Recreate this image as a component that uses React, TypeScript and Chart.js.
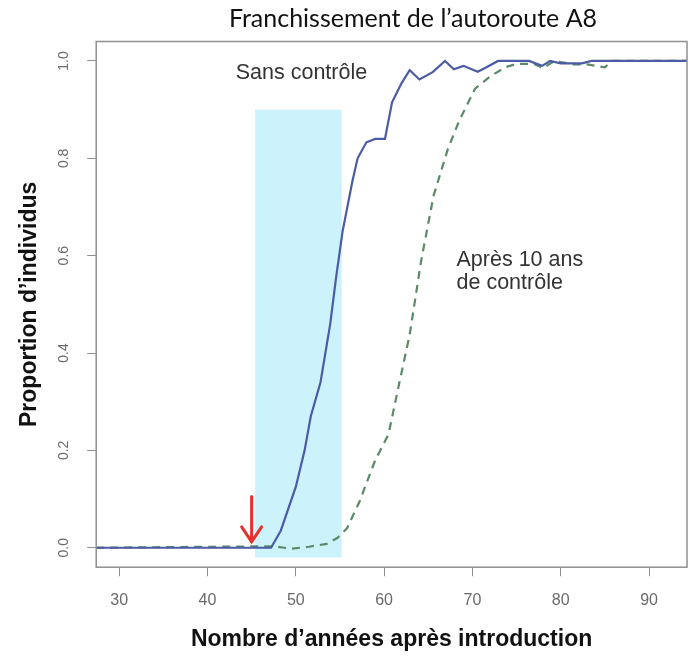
import React, { useEffect, useRef } from 'react';
import { Chart, registerables } from 'chart.js';

Chart.register(...registerables);

// ---------- data ----------
const chartTitle = 'Franchissement de l\u2019autoroute A8';
const xAxisTitle = 'Nombre d\u2019ann\u00e9es apr\u00e8s introduction';
const yAxisTitle = 'Proportion d\u2019individus';

const xTicks = [30, 40, 50, 60, 70, 80, 90];
const yTicks = [0, 0.2, 0.4, 0.6, 0.8, 1.0];
const yTickLabels = ['0.0', '0.2', '0.4', '0.6', '0.8', '1.0'];

const xMin = 27.4;
const xMax = 94.3;
const yMin = -0.04;
const yMax = 1.04;

const sansLabel = 'Sans contr\u00f4le';
const sansYears = [27.4, 47.2, 48.3, 50.0, 51.0, 51.7, 52.8, 53.9, 54.6, 55.3, 56.4, 57.0, 58.0, 59.0, 60.1, 60.9, 62.0, 62.9, 64.0, 65.5, 66.9, 67.9, 69.0, 70.6, 71.6, 72.9, 76.4, 77.9, 78.8, 80.0, 82.4, 83.5, 94.3];
const sansValues = [0, 0, 0.035, 0.125, 0.2, 0.27, 0.34, 0.46, 0.56, 0.65, 0.752, 0.8, 0.833, 0.84, 0.84, 0.915, 0.955, 0.981, 0.962, 0.977, 1.0, 0.983, 0.99, 0.978, 0.987, 1.0, 1.0, 0.99, 1.0, 0.995, 0.995, 1.0, 1.0];

const apresLabel = 'Apr\u00e8s 10 ans de contr\u00f4le';
const apresYears = [27.4, 47.5, 49.5, 51.5, 53.5, 54.7, 55.8, 57.2, 59.0, 60.5, 61.6, 62.9, 64.2, 65.6, 67.2, 68.5, 70.3, 72.0, 73.7, 75.0, 77.0, 78.0, 79.3, 81.5, 83.0, 85.0, 85.8, 94.3];
const apresValues = [0, 0.003, -0.002, 0.002, 0.008, 0.02, 0.04, 0.094, 0.18, 0.233, 0.328, 0.438, 0.59, 0.723, 0.818, 0.877, 0.943, 0.968, 0.987, 0.994, 0.994, 0.985, 1.0, 0.993, 0.993, 0.987, 1.0, 1.0];

// shaded control period
const bandStart = 45.4;
const bandEnd = 55.2;
const bandTop = 0.9;
const bandBottom = -0.02;

// red arrow (introduction point)
const arrowYear = 45;
const arrowFrom = 0.105;
const arrowTo = 0.012;

// text annotations (data coordinates)
const sansTextPos = { x: 43.2, y: 0.975 };
const apresTextLines = ['Apr\u00e8s 10 ans', 'de contr\u00f4le'];
const apresTextPos = { x: 68.2, y: 0.59 };
const apresLineGap = 0.047;

// ---------- styles ----------
const BLUE = '#4b5ba6';
const GREEN = '#5a8a68';
const BAND = 'rgb(204,242,251)';
const RED = '#e8302a';
const AXIS = '#8f8f8f';
const TICKTXT = '#6a6a6a';
const SANS = '"Liberation Sans", Arial, sans-serif';

const decorPlugin = {
  id: 'decor',
  beforeDatasetsDraw(chart: any) {
    const { ctx, scales } = chart;
    const x = scales.x, y = scales.y;
    ctx.save();
    ctx.fillStyle = BAND;
    const x0 = x.getPixelForValue(bandStart);
    const x1 = x.getPixelForValue(bandEnd);
    const y0 = y.getPixelForValue(bandTop);
    const y1 = y.getPixelForValue(bandBottom);
    ctx.fillRect(x0, y0, x1 - x0, y1 - y0);
    ctx.restore();
  },
  afterDatasetsDraw(chart: any) {
    const { ctx, scales, chartArea } = chart;
    const x = scales.x, y = scales.y;
    ctx.save();
    // arrow
    const ax = x.getPixelForValue(arrowYear);
    const ay0 = y.getPixelForValue(arrowFrom);
    const ay1 = y.getPixelForValue(arrowTo);
    ctx.strokeStyle = RED;
    ctx.lineWidth = 3;
    ctx.lineCap = 'round';
    ctx.beginPath();
    ctx.moveTo(ax, ay0);
    ctx.lineTo(ax, ay1);
    ctx.moveTo(ax - 10, ay1 - 15);
    ctx.lineTo(ax, ay1);
    ctx.lineTo(ax + 10, ay1 - 15);
    ctx.stroke();
    // box
    ctx.strokeStyle = AXIS;
    ctx.lineWidth = 1.5;
    ctx.lineCap = 'butt';
    ctx.strokeRect(chartArea.left, chartArea.top, chartArea.right - chartArea.left, chartArea.bottom - chartArea.top);
    ctx.restore();
  },
  afterDraw(chart: any) {
    const { ctx, scales, chartArea } = chart;
    const x = scales.x, y = scales.y;
    ctx.save();
    // title
    ctx.fillStyle = '#111';
    ctx.font = '25px Lato, "Open Sans", sans-serif';
    ctx.textAlign = 'center';
    ctx.textBaseline = 'middle';
    ctx.fillText(chartTitle, 413, 19);
    // y tick labels, rotated
    ctx.fillStyle = TICKTXT;
    ctx.font = '14px ' + SANS;
    yTicks.forEach((v, i) => {
      const py = y.getPixelForValue(v);
      ctx.save();
      ctx.translate(chartArea.left - 32, py);
      ctx.rotate(-Math.PI / 2);
      ctx.textAlign = 'center';
      ctx.textBaseline = 'middle';
      ctx.fillText(yTickLabels[i], 0, 0);
      ctx.restore();
    });
    // annotations
    ctx.fillStyle = '#333';
    ctx.font = '21.5px ' + SANS;
    ctx.textAlign = 'left';
    ctx.textBaseline = 'middle';
    ctx.fillText(sansLabel, x.getPixelForValue(sansTextPos.x), y.getPixelForValue(sansTextPos.y));
    apresTextLines.forEach((t, i) => {
      ctx.fillText(t, x.getPixelForValue(apresTextPos.x), y.getPixelForValue(apresTextPos.y - i * apresLineGap));
    });
    ctx.restore();
  },
};

export default function App() {
  const ref = useRef<HTMLCanvasElement | null>(null);
  useEffect(() => {
    if (!ref.current) return;
    const chart = new Chart(ref.current, {
      type: 'line',
      data: {
        datasets: [
          {
            label: sansLabel,
            data: sansYears.map((v, i) => ({ x: v, y: sansValues[i] })),
            borderColor: BLUE,
            borderWidth: 2.2,
            pointRadius: 0,
            tension: 0,
            fill: false,
          },
          {
            label: apresLabel,
            data: apresYears.map((v, i) => ({ x: v, y: apresValues[i] })),
            borderColor: GREEN,
            borderWidth: 2.2,
            borderDash: [8, 6],
            pointRadius: 0,
            tension: 0,
            fill: false,
          },
        ],
      },
      options: {
        animation: false,
        responsive: false,
        maintainAspectRatio: false,
        layout: { padding: { left: 12, right: 6, top: 41.5, bottom: 0 } },
        plugins: {
          legend: { display: false },
          title: { display: false },
          tooltip: { enabled: false },
        },
        scales: {
          x: {
            type: 'linear',
            min: xMin,
            max: xMax,
            afterBuildTicks: (axis: any) => {
              axis.ticks = xTicks.map((v) => ({ value: v }));
            },
            grid: { display: true, drawOnChartArea: false, drawTicks: true, tickLength: 9, color: AXIS },
            border: { display: false },
            ticks: {
              padding: 15,
              color: TICKTXT,
              font: { family: SANS, size: 16 },
              maxRotation: 0,
              autoSkip: false,
              callback: (v: any) => String(v),
            },
            title: {
              display: true,
              text: xAxisTitle,
              color: '#111',
              font: { family: SANS, size: 23, weight: 'bold' },
              padding: { top: 0, bottom: 4 },
            },
          },
          y: {
            type: 'linear',
            min: yMin,
            max: yMax,
            afterBuildTicks: (axis: any) => {
              axis.ticks = yTicks.map((v) => ({ value: v }));
            },
            grid: { display: true, drawOnChartArea: false, drawTicks: true, tickLength: 9, color: AXIS },
            border: { display: false },
            ticks: { display: false },
            title: {
              display: true,
              text: yAxisTitle,
              color: '#111',
              font: { family: SANS, size: 23, weight: 'bold' },
              padding: { top: 4.2, bottom: 43.4 },
            },
          },
        },
      },
      plugins: [decorPlugin],
    });
    return () => chart.destroy();
  }, []);
  return (
    <div style={{ position: 'fixed', left: 0, top: 0, width: 693, height: 657, background: '#fff' }}>
      <canvas ref={ref} width={693} height={657} style={{ width: 693, height: 657, display: 'block' }} />
    </div>
  );
}
